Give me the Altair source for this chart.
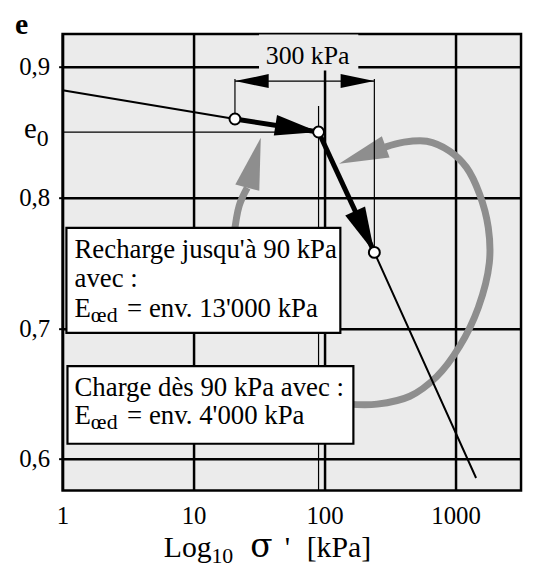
import math
import altair as alt
import pandas as pd

# ---------------- data (sigma' in kPa, e = void ratio) ----------------
curve_sigma = [1, 20.7, 90, 240, 1435]
curve_e = [0.882, 0.860, 0.850, 0.758, 0.5855]

reload_sigma = [20.7, 90]          # thick reloading segment
reload_e = [0.860, 0.850]
load_sigma = [90, 240]             # thick loading segment
load_e = [0.850, 0.758]

point_sigma = [20.7, 90, 240]
point_e = [0.860, 0.850, 0.758]

e0_value = 0.85
sigma_p = 90
span_sigma = [20.7, 240]           # "300 kPa" dimension line
span_e = 0.889
span_top = 0.8905

x_ticks = [1, 10, 100, 1000]
y_ticks = [0.6, 0.7, 0.8, 0.9]

loop_sigma = [150, 252, 448, 718, 1072, 1494, 1811, 1778, 1520, 1212, 901, 603, 404, 290]
loop_e = [0.642, 0.642, 0.648, 0.663, 0.686, 0.716, 0.750, 0.777, 0.803, 0.823, 0.8355, 0.843, 0.8423, 0.8385]
loop_tip = [129, 0.8258]

short_sigma = [20.3, 22.3, 25.7]
short_e = [0.770, 0.7937, 0.8074]
short_tip = [32.6, 0.8456]

# annotation boxes (data units)
box_s1 = [1.07, 1.09]
box_s2 = [132, 166]
box_e1 = [0.7768, 0.671]
box_e2 = [0.6964, 0.6117]
label_bg_s = [31.6, 181]
label_bg_e = [0.897, 0.9245]

# ---------------- scales ----------------
W, H = 462, 460
XD = [1, 10 ** 3.5]
YD = [0.576, 0.925]
xs = alt.Scale(type="log", domain=XD, nice=False)
ys = alt.Scale(domain=YD, nice=False, zero=False)
FONT = "Liberation Serif"
GRAY = "#8e8e8e"


def px(s):
    return math.log10(s) / math.log10(XD[1]) * W


def py(e):
    return (YD[1] - e) / (YD[1] - YD[0]) * H


def heading(a, b):
    dx = px(b[0]) - px(a[0])
    dy = py(b[1]) - py(a[1])
    return math.degrees(math.atan2(dx, -dy)) % 360


x_axis = alt.Axis(
    values=x_ticks, format="d", title=None, grid=True, gridColor="black", gridWidth=2.5,
    gridOpacity=1, domain=False, ticks=False, labelFont=FONT, labelFontSize=25,
    labelColor="black", labelPadding=13, labelFlush=False, labelOverlap=False)
y_axis = alt.Axis(
    values=y_ticks, labelExpr="replace(format(datum.value, '.1f'), '.', ',')", title=None,
    grid=True, gridColor="black", gridWidth=2.5, gridOpacity=1, domain=False, tickSize=4,
    tickColor="black", tickWidth=2, labelFont=FONT, labelFontSize=25, labelColor="black",
    labelPadding=9, labelOverlap=False)

X = alt.X("s:Q", scale=xs, axis=x_axis)
Y = alt.Y("e:Q", scale=ys, axis=y_axis)


def line(sig, ee, color, width, interp="linear"):
    df = pd.DataFrame({"s": sig, "e": ee, "i": list(range(len(sig)))})
    return alt.Chart(df).mark_line(color=color, strokeWidth=width, interpolate=interp,
                                   strokeCap="butt").encode(x=X, y=Y, order="i:Q")


def arrowhead(tip, frm, length, half_w, color):
    w = half_w / (length / 2)
    path = f"M0,0L{w:.3f},2L{-w:.3f},2Z"
    df = pd.DataFrame({"s": [tip[0]], "e": [tip[1]]})
    return alt.Chart(df).mark_point(shape=path, size=length ** 2, angle=heading(frm, tip),
                                    filled=True, fill=color, opacity=1, strokeWidth=0).encode(x=X, y=Y)


def txt(text, s, e, size, dx=0, dy=0, font=FONT, weight="normal", align="left"):
    df = pd.DataFrame({"s": [s], "e": [e], "t": [text]})
    return alt.Chart(df).mark_text(font=font, fontSize=size, fontWeight=weight, align=align,
                                   baseline="alphabetic", dx=dx, dy=dy, color="black").encode(
        x=X, y=Y, text="t:N")


layers = []

# e0 reference line
e0_df = pd.DataFrame({"s": [1], "s2": [sigma_p], "e": [e0_value]})
layers.append(alt.Chart(e0_df).mark_rule(color="black", strokeWidth=1.2).encode(x=X, x2="s2:Q", y=Y))

# vertical thin line at sigma_p
vp_df = pd.DataFrame({"s": [sigma_p], "e": [0.870], "e2": [YD[0]]})
layers.append(alt.Chart(vp_df).mark_rule(color="black", strokeWidth=1.2).encode(x=X, y=Y, y2="e2:Q"))

# gray arrows
layers.append(line(loop_sigma, loop_e, GRAY, 7, "catmull-rom"))
layers.append(arrowhead(loop_tip, [loop_sigma[-1], loop_e[-1]], 50, 11.5, GRAY))
layers.append(line(short_sigma, short_e, GRAY, 7, "catmull-rom"))
layers.append(arrowhead(short_tip, [short_sigma[-1], short_e[-1]], 52, 12.5, GRAY))

# label background and boxes
bg_df = pd.DataFrame({"s": [label_bg_s[0]], "s2": [label_bg_s[1]], "e": [label_bg_e[0]], "e2": [label_bg_e[1]]})
layers.append(alt.Chart(bg_df).mark_rect(fill="#ebebeb", strokeWidth=0).encode(x=X, x2="s2:Q", y=Y, y2="e2:Q"))
box_df = pd.DataFrame({"s": box_s1, "s2": box_s2, "e": box_e1, "e2": box_e2})
layers.append(alt.Chart(box_df).mark_rect(fill="white", stroke="black", strokeWidth=2.2).encode(
    x=X, x2="s2:Q", y=Y, y2="e2:Q"))

# compression curve and thick segments
layers.append(line(curve_sigma, curve_e, "black", 2))
layers.append(line(reload_sigma, reload_e, "black", 5))
layers.append(line(load_sigma, load_e, "black", 5))
layers.append(arrowhead([reload_sigma[1], reload_e[1]], [reload_sigma[0], reload_e[0]], 44, 10.5, "black"))
layers.append(arrowhead([load_sigma[1], load_e[1]], [load_sigma[0], load_e[0]], 46, 11, "black"))

# dimension line
dim_df = pd.DataFrame({"s": [span_sigma[0]], "s2": [span_sigma[1]], "e": [span_e]})
layers.append(alt.Chart(dim_df).mark_rule(color="black", strokeWidth=1.2).encode(x=X, x2="s2:Q", y=Y))
dv_df = pd.DataFrame({"s": span_sigma, "e": [span_top, span_top], "e2": [point_e[0], point_e[2]]})
layers.append(alt.Chart(dv_df).mark_rule(color="black", strokeWidth=1.2).encode(x=X, y=Y, y2="e2:Q"))
layers.append(arrowhead([span_sigma[0], span_e], [span_sigma[1], span_e], 34, 7, "black"))
layers.append(arrowhead([span_sigma[1], span_e], [span_sigma[0], span_e], 34, 7, "black"))

# circles
pt_df = pd.DataFrame({"s": point_sigma, "e": point_e})
layers.append(alt.Chart(pt_df).mark_point(shape="circle", size=121, filled=True, fill="white",
                                          stroke="black", strokeWidth=2, opacity=1).encode(x=X, y=Y))

# texts
layers.append(txt("300 kPa", 74.3, 0.902, 26, align="center"))
tx = 1.233
layers.append(txt("Recharge jusqu'à 90 kPa", tx, 0.7535, 27))
layers.append(txt("avec :", tx, 0.7315, 27))
layers.append(txt("E", tx, 0.7088, 27))
layers.append(txt("œd", tx, 0.7088, 22, dx=16.5, dy=5))
layers.append(txt("= env. 13'000 kPa", tx, 0.7088, 27, dx=53))
layers.append(txt("Charge dès 90 kPa avec :", tx, 0.6481, 27))
layers.append(txt("E", tx, 0.6268, 27))
layers.append(txt("œd", tx, 0.6268, 22, dx=16.5, dy=5))
layers.append(txt("= env. 4'000 kPa", tx, 0.6268, 27, dx=53))

# axis-side labels
layers.append(txt("e", 1, YD[1], 30, dx=-48, dy=0, weight="bold"))
layers.append(txt("e", 1, e0_value, 29, dx=-39, dy=6))
layers.append(txt("0", 1, e0_value, 24, dx=-26, dy=14))
layers.append(txt("Log", 1, YD[0], 30, dx=102, dy=67))
layers.append(txt("10", 1, YD[0], 22, dx=150, dy=73))
layers.append(txt("σ", 1, YD[0], 33, dx=189, dy=67, font="DejaVu Serif"))
layers.append(txt("'", 1, YD[0], 30, dx=224, dy=67))
layers.append(txt("[kPa]", 1, YD[0], 30, dx=246, dy=67))

chart = alt.layer(*layers).properties(
    width=W, height=H,
    autosize=alt.AutoSizeParams(type="none"),
    padding={"left": 55, "top": 24, "right": 4, "bottom": 76},
).configure_view(fill="#ebebeb", stroke="black", strokeWidth=2.5)

chart.save("out.html", embed_options={"renderer": "svg", "actions": False})
